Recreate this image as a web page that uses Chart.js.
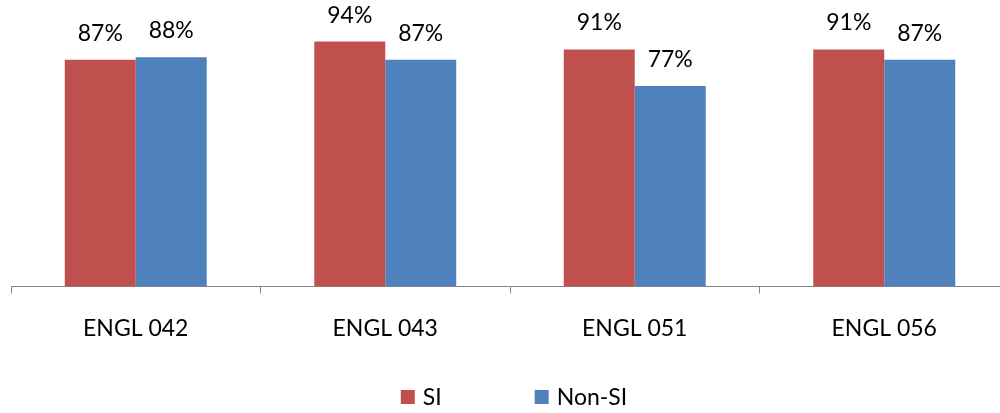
<!DOCTYPE html>
<html>
<head>
<meta charset="utf-8">
<script src="https://cdn.jsdelivr.net/npm/chart.js@4.4.1/dist/chart.umd.min.js"></script>
<style>
  html, body { margin: 0; padding: 0; background: #fff; overflow: hidden; width: 1000px; height: 413px; }
  #wrap { width: 1012px; height: 413px; }
</style>
</head>
<body>
<div id="wrap"><canvas id="c" width="1012" height="413"></canvas></div>
<script>
// Course pass rates (%) for students with and without Supplemental Instruction
const courses = ['ENGL 042', 'ENGL 043', 'ENGL 051', 'ENGL 056'];
const siRates = [87, 94, 91, 91];
const nonSiRates = [88, 87, 77, 87];
const seriesNames = ['SI', 'Non-SI'];
const seriesColors = ['#C0504D', '#4F81BD'];

const FONT = 'Lato, "Liberation Sans", sans-serif';
const FONT_SIZE = 23;
const AXIS_GREY = '#868686';

// Percentage labels above every bar
const valueLabels = {
  id: 'valueLabels',
  afterDatasetsDraw(chart) {
    const ctx = chart.ctx;
    ctx.save();
    ctx.font = FONT_SIZE + 'px ' + FONT;
    ctx.fillStyle = '#000';
    ctx.textAlign = 'center';
    ctx.textBaseline = 'alphabetic';
    chart.data.datasets.forEach((ds, i) => {
      chart.getDatasetMeta(i).data.forEach((bar, j) => {
        ctx.fillText(ds.data[j] + '%', bar.x, bar.y - 19);
      });
    });
    ctx.restore();
  }
};

// Single-row legend under the axis with wide spacing between entries
const bottomLegend = {
  id: 'bottomLegend',
  afterDraw(chart) {
    const ctx = chart.ctx;
    ctx.save();
    ctx.font = FONT_SIZE + 'px ' + FONT;
    const box = 14, gap = 8, spacing = 93;
    const items = chart.data.datasets.map(ds => ({
      text: ds.label,
      color: ds.backgroundColor,
      w: ctx.measureText(ds.label).width
    }));
    const total = items.reduce((s, it) => s + box + gap + it.w, 0) + spacing * (items.length - 1);
    let x = chart.width / 2 + 8 - total / 2;
    const midY = chart.height - 16;
    ctx.textBaseline = 'middle';
    ctx.textAlign = 'left';
    items.forEach(it => {
      ctx.fillStyle = it.color;
      ctx.fillRect(x, midY - box / 2, box, box);
      ctx.fillStyle = '#000';
      ctx.fillText(it.text, x + box + gap, midY + 1);
      x += box + gap + it.w + spacing;
    });
    ctx.restore();
  }
};

new Chart(document.getElementById('c'), {
  type: 'bar',
  data: {
    labels: courses,
    datasets: [
      { label: seriesNames[0], data: siRates, backgroundColor: seriesColors[0] },
      { label: seriesNames[1], data: nonSiRates, backgroundColor: seriesColors[1] }
    ]
  },
  options: {
    responsive: false,
    animation: false,
    devicePixelRatio: 1,
    layout: { padding: { left: 11, right: 3, top: 26, bottom: 50 } },
    datasets: { bar: { categoryPercentage: 0.569, barPercentage: 1.0, borderWidth: 0 } },
    plugins: { legend: { display: false }, tooltip: { enabled: false } },
    scales: {
      x: {
        offset: true,
        grid: {
          display: true,
          drawOnChartArea: false,
          drawTicks: true,
          tickLength: 7,
          tickColor: AXIS_GREY,
          offset: true
        },
        border: { display: true, color: AXIS_GREY, width: 1 },
        ticks: { color: '#000', font: { family: FONT, size: FONT_SIZE }, padding: 21 }
      },
      y: {
        display: false,
        min: 0,
        max: 100
      }
    }
  },
  plugins: [valueLabels, bottomLegend]
});
</script>
</body>
</html>
